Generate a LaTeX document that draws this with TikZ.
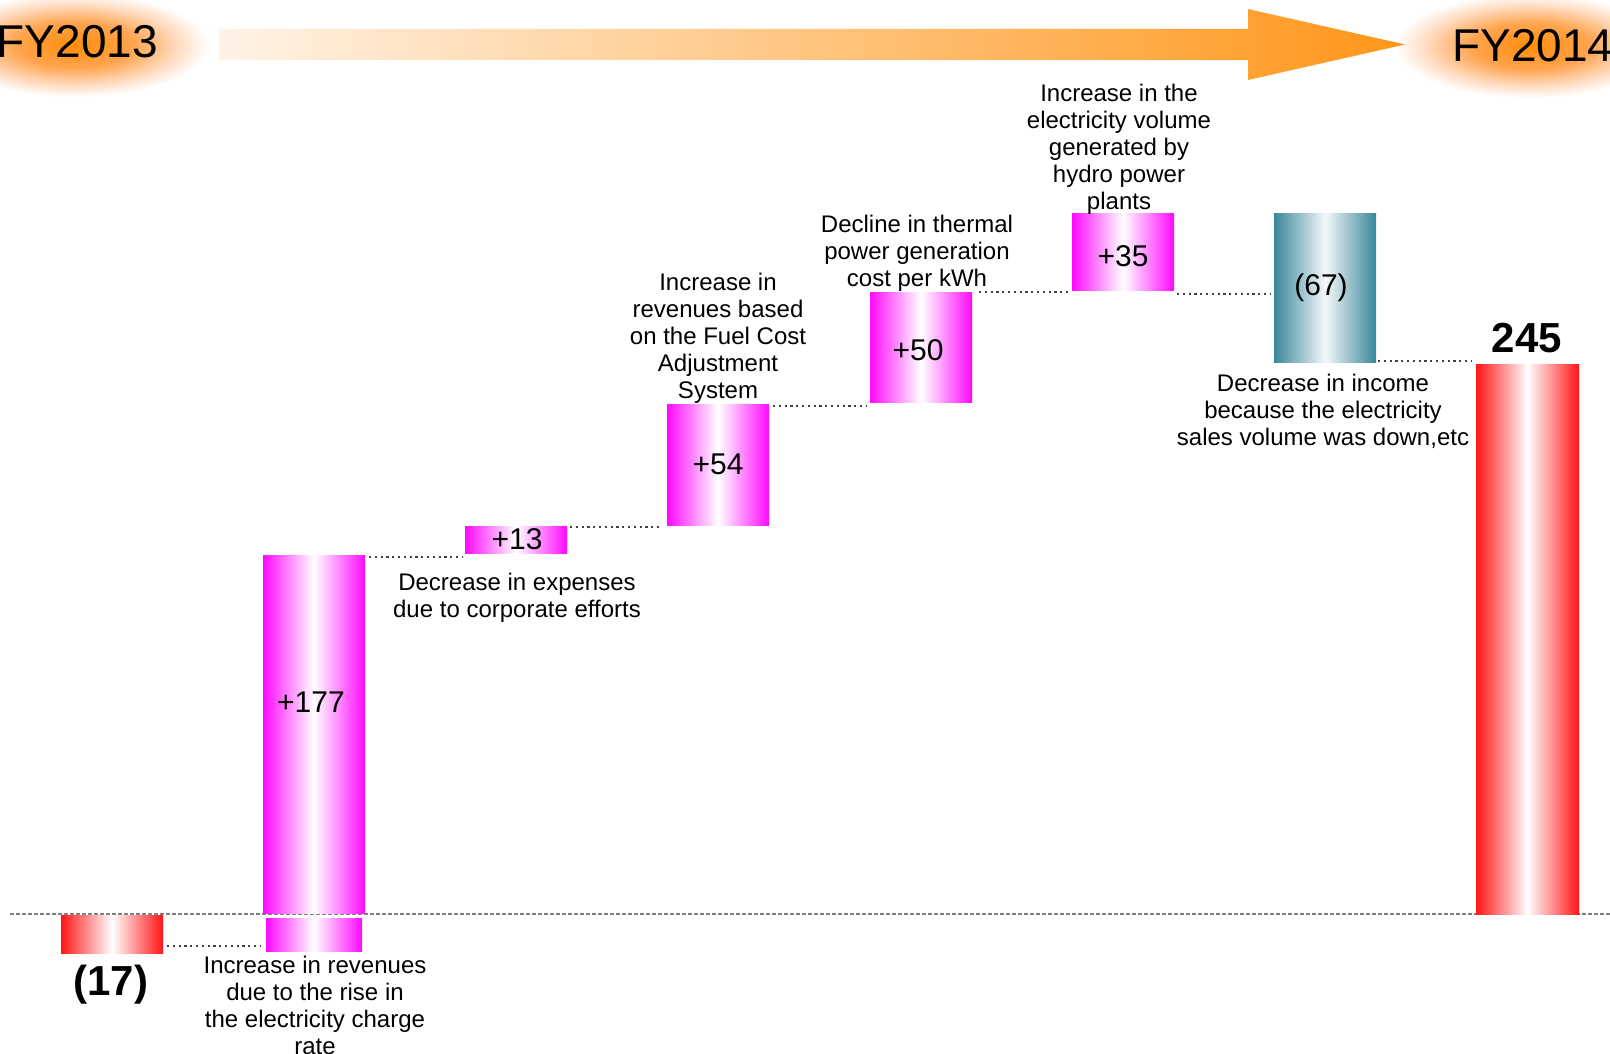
\documentclass[tikz,border=0pt]{standalone}
\usepackage{fontspec}
\setmainfont{Liberation Sans}
\usetikzlibrary{calc}
\definecolor{glowC}{RGB}{255,140,10}
\definecolor{glowB}{RGB}{255,165,80}
\definecolor{glowD}{RGB}{255,218,190}
\definecolor{arrowL}{RGB}{255,243,230}
\definecolor{arrowR}{RGB}{255,150,25}
\definecolor{mag}{RGB}{255,10,255}
\definecolor{redb}{RGB}{255,20,20}
\definecolor{tealb}{RGB}{58,134,155}
\definecolor{dotc}{RGB}{64,64,64}
\pgfdeclareradialshading{glow}{\pgfpointorigin}{color(0bp)=(glowC); color(11bp)=(glowB); color(19bp)=(glowD); color(25bp)=(white); color(50bp)=(white)}
\begin{document}
\begin{tikzpicture}[x=1pt,y=-1pt,
  bar/.style={inner sep=0pt, outer sep=0pt, minimum width=102pt},
  magbar/.style={bar, left color=mag, right color=mag, middle color=white},
  redbar/.style={bar, left color=redb, right color=redb, middle color=white},
  tealbar/.style={bar, left color=tealb, right color=tealb, middle color=white!94!tealb},
  num/.style={inner sep=0pt, font=\fontsize{30}{34}\selectfont},
  bignum/.style={inner sep=0pt, font=\fontsize{42}{46}\selectfont\bfseries},
  desc/.style={inner sep=0pt, align=center, font=\fontsize{24}{27}\selectfont},
  dotline/.style={dotc, line width=2.2pt, dash pattern=on 2.2pt off 3.6pt},
  fy/.style={inner sep=0pt, font=\fontsize{46}{50}\selectfont}]
\useasboundingbox (0,0) rectangle (1610,1054);
% glows
\path[shading=glow] (74,45) ellipse [x radius=135, y radius=52];
\path[shading=glow] (1530,46) ellipse [x radius=135, y radius=52];
\node[fy, anchor=east] (fy13) at (158,42) {FY2013};
\node[fy, anchor=west] (fy14) at (1452,46) {FY2014};
% arrow
\path[left color=arrowL, right color=arrowR, middle color=arrowL!50!arrowR]
  (219,29) -- (1248,29) -- (1248,9) -- (1405,44.5) -- (1248,80) -- (1248,60) -- (219,60) -- cycle;
% baseline
\draw[gray, line width=1.2pt, dash pattern=on 4pt off 2pt] (10,914) -- (1610,914);
% bars
\node[redbar, minimum height=38pt] (b17) at (112,934) {};
\node[magbar, minimum width=96pt, minimum height=33pt] (b177b) at (314,934.5) {};
\node[magbar, minimum height=358pt] (b177) at (314,734) {};
\node[magbar, minimum height=27pt] (b13) at (516,539.5) {};
\node[magbar, minimum height=121pt] (b54) at (718,464.5) {};
\node[magbar, minimum height=110pt] (b50) at (921,347) {};
\node[magbar, minimum height=77pt] (b35) at (1123,251.5) {};
\node[tealbar, minimum height=149pt] (b67) at (1325,287.5) {};
\node[redbar, minimum width=103pt, minimum height=550pt] (b245) at (1527.5,639) {};
% numbers
\node[bignum] (n17) at (111,985) {(17)};
\node[num] (n177) at (311,702) {+177};
\node[num] (n13) at (517,539) {+13};
\node[num] (n54) at (718,464) {+54};
\node[num] (n50) at (918,350) {+50};
\node[num] (n35) at (1123,256) {+35};
\node[num] (n67) at (1321,288) {(67)};
\node[bignum] (n245) at (1527,338) {245};
% descriptions
\node[desc] (d177) at (315,1005) {Increase in revenues\\due to the rise in\\the electricity charge\\rate};
\node[desc] (d13) at (517,598) {Decrease in expenses\\due to corporate efforts};
\node[desc] (d54) at (718,338) {Increase in\\revenues based\\on the Fuel Cost\\Adjustment\\System};
\node[desc] (d50) at (917,253) {Decline in thermal\\power generation\\cost per kWh};
\node[desc] (d35) at (1119,149) {Increase in the\\electricity volume\\generated by\\hydro power\\plants};
\node[desc] (d67) at (1323,411) {Decrease in income\\because the electricity\\sales volume was down,etc};
% dotted connectors
\coordinate (y1) at (0,946);
\coordinate (y2) at (0,557);
\coordinate (y3) at (0,527);
\coordinate (y4) at (0,406);
\coordinate (y5) at (0,292);
\coordinate (y6) at (0,294);
\coordinate (y7) at (0,361);
\draw[dotline, shorten <=4pt, shorten >=5pt] (b17.east |- y1) -- (b177b.west |- y1);
\draw[dotline, shorten <=4pt, shorten >=3pt] (b177.east |- y2) -- (b13.west |- y2);
\draw[dotline, shorten <=3pt, shorten >=5pt] (b13.east |- y3) -- (b54.west |- y3);
\draw[dotline, shorten <=4pt, shorten >=3pt] (b54.east |- y4) -- (b50.west |- y4);
\draw[dotline, shorten <=7pt, shorten >=1pt] (b50.east |- y5) -- (b35.west |- y5);
\draw[dotline, shorten <=3pt, shorten >=4pt] (b35.east |- y6) -- (b67.west |- y6);
\draw[dotline, shorten <=2pt, shorten >=4pt] (b67.east |- y7) -- (b245.west |- y7);
\end{tikzpicture}
\end{document}
